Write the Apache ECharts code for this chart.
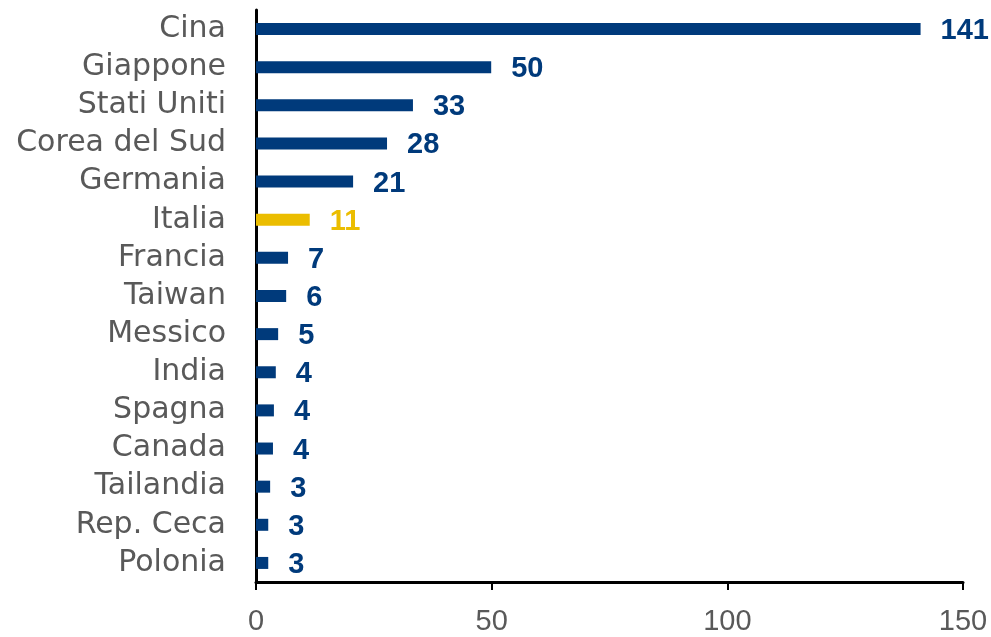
<!DOCTYPE html>
<html><head><meta charset="utf-8">
<script src="https://cdn.jsdelivr.net/npm/echarts@6/dist/echarts.min.js"></script>
<style>html,body{margin:0;padding:0;background:#fff}#c{width:991px;height:637px}</style>
</head><body><div id="c"></div>
<script>
const categories = ["Cina","Giappone","Stati Uniti","Corea del Sud","Germania","Italia","Francia","Taiwan","Messico","India","Spagna","Canada","Tailandia","Rep. Ceca","Polonia"];
const values = [141, 49.9, 33.3, 27.8, 20.6, 11.4, 6.8, 6.4, 4.7, 4.2, 3.8, 3.6, 3.0, 2.6, 2.6];
const highlight = "Italia";
const xTicks = {min: 0, max: 150, interval: 50};

const NAVY = "#003a7b", GOLD = "#ebbd00", GREY = "#595959";
const FONT = "DejaVu Sans";
const chart = echarts.init(document.getElementById('c'), null, {renderer: 'canvas'});
chart.setOption({
  animation: false,
  grid: {left: 256, right: 28, top: 10, bottom: 55, containLabel: false},
  xAxis: {
    type: 'value', min: xTicks.min, max: xTicks.max, interval: xTicks.interval,
    axisLine: {show: true, lineStyle: {color: '#000', width: 3}},
    axisTick: {show: true, length: 8, lineStyle: {color: '#000', width: 2}},
    splitLine: {show: false},
    axisLabel: {color: GREY, fontFamily: 'Liberation Sans', fontSize: 29, margin: 25}
  },
  yAxis: {
    type: 'category', data: categories, inverse: true,
    axisLine: {show: true, lineStyle: {color: '#000', width: 3}},
    axisTick: {show: false},
    axisLabel: {color: GREY, fontFamily: FONT, fontSize: 30, margin: 30, interval: 0}
  },
  series: [{
    type: 'bar', barWidth: 12,
    data: categories.map((c, i) => ({
      value: values[i],
      itemStyle: {color: c === highlight ? GOLD : NAVY},
      label: {color: c === highlight ? GOLD : NAVY}
    })),
    label: {
      show: true, position: 'right', distance: 20, offset: [0, 2],
      fontFamily: 'Liberation Sans', fontWeight: 'bold', fontSize: 29,
      formatter: p => Math.round(p.value)
    }
  }]
});
</script></body></html>
